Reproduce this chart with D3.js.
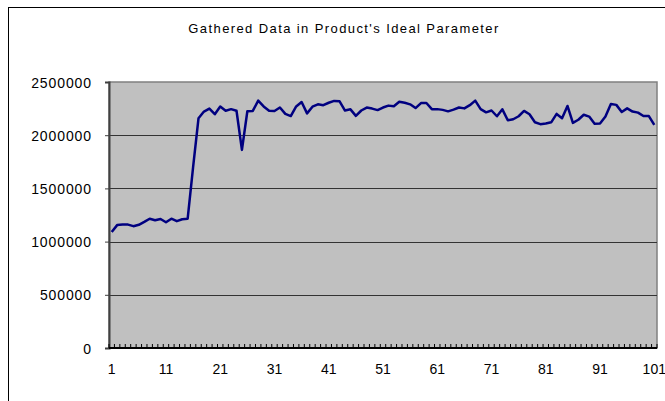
<!DOCTYPE html>
<html lang="en">
<head>
<meta charset="UTF-8">
<title>Gathered Data in Product's Ideal Parameter</title>
<script src="https://d3js.org/d3.v7.min.js"></script>
<style>
 body {
   margin: 0;
   background: #fff;
   font-family: "Liberation Sans", Arial, sans-serif;
 }
 .grid line {
   stroke: #333;
   stroke-width: 1px;
 }
 .label {
   font-size: 14px;
   fill: #000;
 }
</style>
</head>
<body>
<div id="chart"></div>
<script>
// values, one per sample 1..101
const samples = d3.range(1, 102);
const values = [
  1090000, 1155000, 1160000, 1160000, 1145000, 1158000, 1185000, 1215000, 1200000, 1212000,
  1182000, 1215000, 1192000, 1210000, 1215000, 1700000, 2160000, 2222000, 2250000, 2197000,
  2270000, 2230000, 2245000, 2230000, 1862000, 2225000, 2228000, 2325000, 2270000, 2230000,
  2228000, 2260000, 2200000, 2180000, 2270000, 2312000, 2205000, 2268000, 2290000, 2282000,
  2305000, 2322000, 2318000, 2232000, 2243000, 2182000, 2232000, 2260000, 2250000, 2236000,
  2260000, 2278000, 2272000, 2315000, 2305000, 2290000, 2255000, 2302000, 2303000, 2245000,
  2245000, 2238000, 2224000, 2240000, 2260000, 2252000, 2282000, 2325000, 2245000, 2215000,
  2232000, 2178000, 2243000, 2140000, 2150000, 2178000, 2228000, 2197000, 2122000, 2104000,
  2110000, 2121000, 2200000, 2160000, 2275000, 2116000, 2145000, 2192000, 2175000, 2107000,
  2110000, 2175000, 2294000, 2285000, 2218000, 2252000, 2222000, 2212000, 2180000, 2180000,
  2097000
];
const yTicks = [0, 500000, 1000000, 1500000, 2000000, 2500000];
const xTickLabels = [1, 11, 21, 31, 41, 51, 61, 71, 81, 91, 101];
const title = "Gathered Data in Product's Ideal Parameter";

const width = 665;
const height = 401;
const plot = { left: 109, right: 657, top: 82, bottom: 348 };

const svg = d3.select('#chart').append('svg')
  .attr('width', width)
  .attr('height', height);

// outer chart frame
svg.append('rect')
  .attr('x', 8.5)
  .attr('y', 7.5)
  .attr('width', 700)
  .attr('height', 450)
  .attr('fill', '#fff')
  .attr('stroke', '#000')
  .attr('stroke-width', 1);

svg.append('text')
  .attr('x', 344)
  .attr('y', 33)
  .attr('text-anchor', 'middle')
  .attr('font-size', 13)
  .attr('letter-spacing', 1.4)
  .text(title);

const x = d3.scaleBand()
  .domain(samples)
  .range([plot.left, plot.right]);

const y = d3.scaleLinear()
  .domain([0, 2500000])
  .range([plot.bottom, plot.top]);

// plot area
svg.append('rect')
  .attr('x', plot.left)
  .attr('y', plot.top)
  .attr('width', plot.right - plot.left)
  .attr('height', plot.bottom - plot.top)
  .attr('fill', '#c0c0c0')
  .attr('stroke', '#808080')
  .attr('stroke-width', 1.5);

// horizontal gridlines
svg.append('g')
  .attr('class', 'grid')
  .selectAll('line')
  .data(yTicks.filter(d => d > 0 && d < 2500000))
  .enter()
  .append('line')
  .attr('x1', plot.left)
  .attr('x2', plot.right)
  .attr('y1', d => Math.round(y(d)) + 0.5)
  .attr('y2', d => Math.round(y(d)) + 0.5);

// y axis
const yAxis = d3.axisLeft(y)
  .tickValues(yTicks)
  .tickSize(4)
  .tickPadding(13)
  .tickFormat(d3.format('d'));

const yG = svg.append('g')
  .attr('transform', `translate(${plot.left},0)`)
  .call(yAxis);
yG.select('.domain').attr('stroke', '#404040').attr('stroke-width', 2);
yG.selectAll('.tick line').attr('stroke', '#404040');
yG.selectAll('.tick text')
  .attr('class', 'label')
  .attr('font-family', '"Liberation Sans", Arial, sans-serif')
  .attr('letter-spacing', 0.9)
  .attr('dy', '0.36em');

// x axis: small inner ticks at every category boundary
const boundaries = samples.map(d => x(d)).concat([plot.right]);
svg.append('g')
  .selectAll('line')
  .data(boundaries)
  .enter()
  .append('line')
  .attr('x1', d => d)
  .attr('x2', d => d)
  .attr('y1', plot.bottom)
  .attr('y2', plot.bottom - 4)
  .attr('stroke', '#000')
  .attr('stroke-width', 1);

svg.append('line')
  .attr('x1', plot.left)
  .attr('x2', plot.right)
  .attr('y1', plot.bottom)
  .attr('y2', plot.bottom)
  .attr('stroke', '#000')
  .attr('stroke-width', 2);

svg.append('g')
  .selectAll('text')
  .data(xTickLabels)
  .enter()
  .append('text')
  .attr('class', 'label')
  .attr('x', d => x(d) + x.bandwidth() / 2)
  .attr('y', 374)
  .attr('text-anchor', 'middle')
  .text(d => d);

// data line
const line = d3.line()
  .x((d, i) => x(samples[i]) + x.bandwidth() / 2)
  .y(d => y(d));

svg.append('path')
  .datum(values)
  .attr('fill', 'none')
  .attr('stroke', '#000080')
  .attr('stroke-width', 2.5)
  .attr('stroke-linejoin', 'round')
  .attr('d', line);
</script>
</body>
</html>
